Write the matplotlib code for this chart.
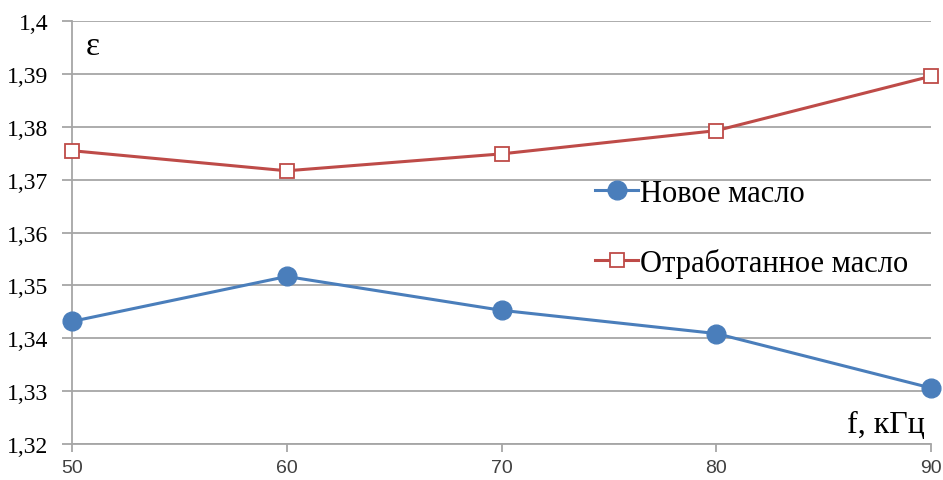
import numpy as np
import matplotlib.pyplot as plt

freq = [50, 60, 70, 80, 90]  # kHz
new_oil = [1.3432, 1.3517, 1.3453, 1.3409, 1.3306]
used_oil = [1.3755, 1.3717, 1.3749, 1.3793, 1.3896]
y_ticks = [1.32, 1.33, 1.34, 1.35, 1.36, 1.37, 1.38, 1.39, 1.4]
y_labels = ["1,32", "1,33", "1,34", "1,35", "1,36", "1,37", "1,38", "1,39", "1,4"]

serif = "Liberation Serif"
fig = plt.figure(figsize=(9.43, 4.81), dpi=100)
ax = fig.add_axes([0.0764, 0.0748, 0.911, 0.879])

ax.plot(freq, new_oil, color="#4A7EBB", lw=2.2, marker="o", ms=13.5,
        markerfacecolor="#4A7EBB", markeredgecolor="#4A7EBB", label="Новое масло",
        zorder=3, clip_on=False)
ax.plot(freq, used_oil, color="#BE4B48", lw=2.2, marker="s", ms=9.5,
        markerfacecolor="white", markeredgecolor="#BE4B48", markeredgewidth=1.3,
        label="Отработанное масло", zorder=3, clip_on=False)

ax.set_xlim(50, 90)
ax.set_ylim(1.32, 1.4)
ax.set_xticks(freq)
ax.set_yticks(y_ticks)
ax.set_yticklabels(y_labels, fontfamily=serif, fontsize=17)
for t in ax.get_xticklabels():
    t.set_fontfamily("Liberation Sans")
    t.set_fontsize(14)
    t.set_color("#404040")

ax.grid(axis="y", color="#A6A6A6", lw=1.3)
ax.set_axisbelow(True)
for s in ["top", "right"]:
    ax.spines[s].set_visible(False)
for s in ["left", "bottom"]:
    ax.spines[s].set_color("#A6A6A6")
    ax.spines[s].set_linewidth(1.3)
ax.tick_params(axis="y", length=7, color="#A6A6A6", width=1.3, pad=10)
ax.tick_params(axis="x", length=6, color="#A6A6A6", width=1.3, pad=5)

ax.text(0.024, 0.943, "ε", transform=ax.transAxes, fontfamily=serif, fontsize=24,
        ha="center", va="center")
ax.text(0.993, 0.028, "f, кГц", transform=ax.transAxes, fontfamily=serif, fontsize=23,
        ha="right", va="baseline")

ax.legend(loc="center left", bbox_to_anchor=(0.609, 0.51), frameon=False,
          prop={"family": serif, "size": 22}, handlelength=1.4, handletextpad=0.05,
          labelspacing=1.3, borderpad=0, borderaxespad=0)

fig.savefig("out.png", dpi=100)
